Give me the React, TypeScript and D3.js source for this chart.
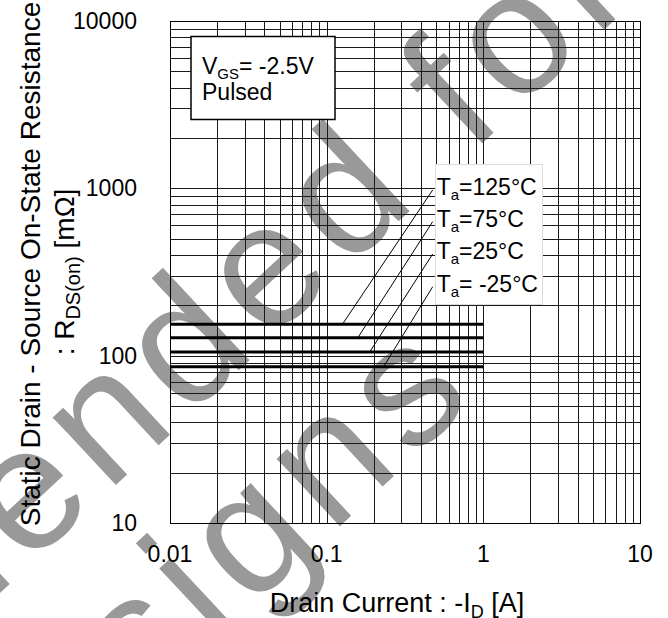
import React, { useEffect, useRef } from 'react';
import * as d3 from 'd3';

// Drain current span of the measured curves (A)
const drainCurrent = [0.01, 1];
// Ambient temperature of each curve
const tempLabels = ['125', '75', '25', ' -25'];
// On-state resistance of each curve (mΩ), flat over the range
const rdsOn = [154, 128, 105, 86];
// Where each leader line touches its curve (A)
const leaderFoot = [0.126, 0.158, 0.188, 0.231];
// Upper end of each leader line, at the label (A, mΩ)
const leaderTopI = 0.475;
const leaderTopR = [977, 632, 405, 258];

const xTicks = [0.01, 0.1, 1, 10];
const yTicks = [10, 100, 1000, 10000];

const FONT = '"Liberation Sans", Arial, Helvetica, sans-serif';

const App: React.FC = () => {
  const svgRef = useRef<SVGSVGElement>(null);

  useEffect(() => {
    const svg = d3.select(svgRef.current);
    svg.selectAll('*').remove();

    const width = 668;
    const height = 618;
    const margin = { top: 21, right: 28, bottom: 95, left: 170 };

    const x = d3.scaleLog().domain([0.01, 10]).range([margin.left, width - margin.right]);
    const y = d3.scaleLog().domain([10, 10000]).range([height - margin.bottom, margin.top]);
    const snap = (v: number) => Math.round(v) + 0.5;

    svg.attr('width', width).attr('height', height).style('font-family', FONT);

    // Watermark, below everything
    const wm = svg.append('g')
      .attr('transform', 'translate(348,207) rotate(-43)')
      .attr('fill', '#999')
      .style('font-size', '175px')
      .style('letter-spacing', '12px');
    wm.append('text').attr('x', -1622).attr('y', 45).text('Not Recommended for');
    wm.append('text').attr('x', -1190).attr('y', 228).text('New Designs');

    // Log grid
    const xGrid = d3.range(-2, 1).flatMap(e => d3.range(1, 10).map(k => k * 10 ** e)).concat(10);
    const yGrid = d3.range(1, 4).flatMap(e => d3.range(1, 10).map(k => k * 10 ** e)).concat(10000);

    const grid = svg.append('g').attr('stroke', '#1a1a1a').attr('stroke-width', 1);
    grid.selectAll('line.v')
      .data(xGrid)
      .enter().append('line')
      .attr('class', 'v')
      .attr('x1', d => snap(x(d)))
      .attr('x2', d => snap(x(d)))
      .attr('y1', y(10))
      .attr('y2', y(10000));
    grid.selectAll('line.h')
      .data(yGrid)
      .enter().append('line')
      .attr('class', 'h')
      .attr('x1', x(0.01))
      .attr('x2', x(10))
      .attr('y1', d => snap(y(d)))
      .attr('y2', d => snap(y(d)));

    // Tick labels
    svg.append('g')
      .selectAll('text')
      .data(xTicks)
      .enter().append('text')
      .attr('x', d => x(d))
      .attr('y', 562)
      .attr('text-anchor', 'middle')
      .style('font-size', '23px')
      .text(d => String(d));

    svg.append('g')
      .selectAll('text')
      .data(yTicks)
      .enter().append('text')
      .attr('x', 137)
      .attr('y', d => y(d))
      .attr('dy', '0.35em')
      .attr('text-anchor', 'end')
      .style('font-size', '23px')
      .text(d => String(d));

    // Curves: flat R_DS(on) over the current range
    rdsOn.forEach(r => {
      const path = d3.line<number>().x(d => x(d)).y(() => y(r));
      svg.append('path')
        .attr('d', path(drainCurrent))
        .attr('fill', 'none')
        .attr('stroke', '#000')
        .attr('stroke-width', 3);
    });

    // Leader lines
    rdsOn.forEach((r, i) => {
      svg.append('line')
        .attr('x1', x(leaderTopI))
        .attr('y1', y(leaderTopR[i]))
        .attr('x2', x(leaderFoot[i]))
        .attr('y2', y(r))
        .attr('stroke', '#000')
        .attr('stroke-width', 1);
    });

    // Condition box
    svg.append('rect')
      .attr('x', 191)
      .attr('y', 36.5)
      .attr('width', 144)
      .attr('height', 83)
      .attr('fill', '#fff')
      .attr('stroke', '#000')
      .attr('stroke-width', 1.5);
    const cond = svg.append('text').attr('x', 202).attr('y', 74).style('font-size', '23px');
    cond.append('tspan').text('V');
    cond.append('tspan').attr('dy', 5).style('font-size', '15px').text('GS');
    cond.append('tspan').attr('dy', -5).text('= -2.5V');
    svg.append('text').attr('x', 202).attr('y', 100).style('font-size', '23px').text('Pulsed');

    // Legend box
    svg.append('rect')
      .attr('x', 435.5)
      .attr('y', 164.5)
      .attr('width', 107)
      .attr('height', 140)
      .attr('fill', '#fff')
      .attr('stroke', '#dcdcdc')
      .attr('stroke-width', 1);

    tempLabels.forEach((t, i) => {
      const lbl = svg.append('text')
        .attr('x', x(leaderTopI) + 4)
        .attr('y', y(leaderTopR[i]) + 5)
        .style('font-size', '23px');
      lbl.append('tspan').text('T');
      lbl.append('tspan').attr('dy', 5).style('font-size', '15px').text('a');
      lbl.append('tspan').attr('dy', -5).text(`=${t}°C`);
    });

    // Axis titles
    const xt = svg.append('text')
      .attr('x', 397)
      .attr('y', 612)
      .attr('text-anchor', 'middle')
      .style('font-size', '27px');
    xt.append('tspan').text('Drain Current : -I');
    xt.append('tspan').attr('dy', 6).style('font-size', '18px').text('D');
    xt.append('tspan').attr('dy', -6).text(' [A]');

    const yt = svg.append('g').attr('transform', 'rotate(-90)');
    yt.append('text')
      .attr('x', -264)
      .attr('y', 40)
      .attr('text-anchor', 'middle')
      .style('font-size', '28px')
      .text('Static Drain - Source On-State Resistance');
    const yt2 = yt.append('text')
      .attr('x', -272)
      .attr('y', 74)
      .attr('text-anchor', 'middle')
      .style('font-size', '28px');
    yt2.append('tspan').text(': R');
    yt2.append('tspan').attr('dy', 6).style('font-size', '20px').text('DS(on)');
    yt2.append('tspan').attr('dy', -6).text(' [mΩ]');

    // Plot frame
    svg.append('rect')
      .attr('x', snap(x(0.01)))
      .attr('y', snap(y(10000)))
      .attr('width', Math.round(x(10) - x(0.01)))
      .attr('height', Math.round(y(10) - y(10000)))
      .attr('fill', 'none')
      .attr('stroke', '#000')
      .attr('stroke-width', 1);
  }, []);

  return (
    <svg ref={svgRef} style={{ position: 'absolute', left: 0, top: 0, background: '#fff' }}></svg>
  );
};

export default App;
